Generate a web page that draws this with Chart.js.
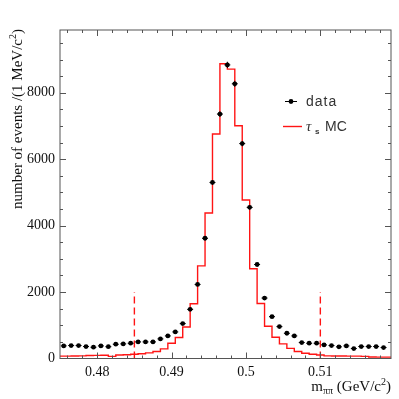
<!DOCTYPE html>
<html>
<head>
<meta charset="utf-8">
<script src="https://cdn.jsdelivr.net/npm/chart.js@4.4.1/dist/chart.umd.min.js"></script>
<style>
  html, body { margin: 0; padding: 0; background: #fff; }
</style>
</head>
<body>
<canvas id="chart" width="399" height="399"></canvas>
<script>
// bin centres of the data histogram (1 MeV bins)
const binCenters = [0.4755, 0.4765, 0.4775, 0.4785, 0.4795, 0.4805, 0.4815, 0.4825, 0.4835, 0.4845,
  0.4855, 0.4865, 0.4875, 0.4885, 0.4895, 0.4905, 0.4915, 0.4925, 0.4935, 0.4945,
  0.4955, 0.4965, 0.4975, 0.4985, 0.4995, 0.5005, 0.5015, 0.5025, 0.5035, 0.5045,
  0.5055, 0.5065, 0.5075, 0.5085, 0.5095, 0.5105, 0.5115, 0.5125, 0.5135, 0.5145,
  0.5155, 0.5165, 0.5175, 0.5185]
const dataCounts = [380, 390, 390, 360, 340, 380, 355, 430, 440, 460,
  500, 500, 500, 590, 680, 800, 1050, 1480, 2230, 3620,
  5300, 7360, 8840, 8270, 6470, 4550, 2830, 1820, 1260, 960,
  760, 680, 480, 460, 460, 410, 390, 350, 380, 300,
  360, 360, 360, 330]

// MC histogram: edges and contents (one content per step)
const mcEdges = [0.4745, 0.4755, 0.4765, 0.4775, 0.4785, 0.4795, 0.4805, 0.4815, 0.4825, 0.4835,
  0.4845, 0.4855, 0.4865, 0.4875, 0.4885, 0.4895, 0.4905, 0.4915, 0.4925, 0.4935,
  0.4945, 0.4955, 0.4965, 0.4975, 0.4985, 0.4995, 0.5005, 0.5015, 0.5025, 0.5035,
  0.5045, 0.5055, 0.5065, 0.5075, 0.5085, 0.5095, 0.5105, 0.5115, 0.5125, 0.5135,
  0.5145, 0.5155, 0.5165, 0.5175, 0.5185, 0.5195]
const mcCounts = [70, 70, 75, 80, 90, 95, 100, 65, 105, 115,
  130, 145, 170, 210, 290, 457, 630, 950, 1650, 2790,
  4381, 6757, 8872, 8712, 7008, 4770, 2700, 1654, 972, 640,
  440, 306, 210, 160, 130, 105, 80, 75, 75, 70,
  70, 65, 45, 40, 40]

const cutValues = [0.485, 0.510]
const cutHeight = 2000
const xTickLabels = [0.48, 0.49, 0.5, 0.51]
const yTickLabels = [0, 2000, 4000, 6000, 8000]

const RED = 'rgb(255, 20, 20)'

const dataPoints = binCenters.map((x, i) => ({ x: x, y: dataCounts[i] }))
const mcPoints = mcEdges.map((x, i) => ({ x: x, y: mcCounts[Math.min(i, mcCounts.length - 1)] }))
const cutSets = cutValues.map(v => ({
  type: 'line',
  data: [{ x: v, y: 0 }, { x: v, y: cutHeight }],
  borderColor: RED,
  borderWidth: 1.4,
  borderDash: [7, 4],
  pointRadius: 0,
  fill: false
}))

// error bars drawn just before the data markers
const errorBars = {
  id: 'errorBars',
  beforeDatasetDraw(chart, args) {
    if (args.index !== 0) return
    const { ctx, scales: { x, y } } = chart
    ctx.save()
    ctx.strokeStyle = '#000'
    ctx.lineWidth = 1
    dataPoints.forEach(p => {
      const px = x.getPixelForValue(p.x)
      const py = y.getPixelForValue(p.y)
      const e = Math.sqrt(p.y)
      ctx.beginPath()
      ctx.moveTo(x.getPixelForValue(p.x - 0.0004), py)
      ctx.lineTo(x.getPixelForValue(p.x + 0.0004), py)
      ctx.moveTo(px, y.getPixelForValue(p.y - e))
      ctx.lineTo(px, y.getPixelForValue(p.y + e))
      ctx.stroke()
    })
    ctx.restore()
  }
}

// frame, inward ticks, axis titles and legend
const frame = {
  id: 'frame',
  afterDraw(chart) {
    const { ctx, chartArea: a, scales: { x, y } } = chart
    ctx.save()
    ctx.strokeStyle = '#555'
    ctx.lineWidth = 1
    ctx.strokeRect(a.left, a.top, a.right - a.left, a.bottom - a.top)
    ctx.beginPath()
    for (let i = 0; i <= 25; i++) {
      const v = 0.476 + i * 0.002
      if (v > x.max) break
      const px = Math.round(x.getPixelForValue(v)) + 0.5
      const major = Math.abs(v * 100 - Math.round(v * 100)) < 1e-6
      const len = major ? 6 : 3
      ctx.moveTo(px, a.bottom); ctx.lineTo(px, a.bottom - len)
      ctx.moveTo(px, a.top); ctx.lineTo(px, a.top + len)
    }
    for (let v = 500; v < y.max; v += 500) {
      const py = Math.round(y.getPixelForValue(v)) + 0.5
      const len = v % 2000 === 0 ? 6 : 3
      ctx.moveTo(a.left, py); ctx.lineTo(a.left + len, py)
      ctx.moveTo(a.right, py); ctx.lineTo(a.right - len, py)
    }
    ctx.stroke()

    // y title
    ctx.fillStyle = '#111'
    const serif = '"Liberation Serif", "DejaVu Serif", serif'
    const yParts = [
      { t: 'number of events /(1 MeV/c', f: '15px ' + serif, dy: 0 },
      { t: '2', f: '10px ' + serif, dy: -6 },
      { t: ')', f: '15px ' + serif, dy: 0 }
    ]
    let total = 0
    yParts.forEach(p => { ctx.font = p.f; p.w = ctx.measureText(p.t).width; total += p.w })
    ctx.translate(22, 29)
    ctx.rotate(-Math.PI / 2)
    ctx.textBaseline = 'alphabetic'
    ctx.textAlign = 'left'
    let cx = -total
    yParts.forEach(p => { ctx.font = p.f; ctx.fillText(p.t, cx, p.dy); cx += p.w })
    ctx.setTransform(1, 0, 0, 1, 0, 0)

    // x title
    const xParts = [
      { t: 'm', f: '15px ' + serif, dy: 0 },
      { t: 'ππ', f: '10px ' + serif, dy: 3 },
      { t: ' (GeV/c', f: '15px ' + serif, dy: 0 },
      { t: '2', f: '10px ' + serif, dy: -6 },
      { t: ')', f: '15px ' + serif, dy: 0 }
    ]
    total = 0
    xParts.forEach(p => { ctx.font = p.f; p.w = ctx.measureText(p.t).width; total += p.w })
    cx = a.right - total
    xParts.forEach(p => { ctx.font = p.f; ctx.fillText(p.t, cx, 391 + p.dy); cx += p.w })

    // legend
    const sans = '"Liberation Sans", Arial, sans-serif'
    ctx.strokeStyle = '#000'
    ctx.beginPath()
    ctx.moveTo(285, 101.5); ctx.lineTo(297, 101.5)
    ctx.stroke()
    ctx.beginPath()
    ctx.arc(291, 101.5, 2.4, 0, Math.PI * 2)
    ctx.fillStyle = '#000'
    ctx.fill()
    ctx.strokeStyle = RED
    ctx.lineWidth = 1.4
    ctx.beginPath()
    ctx.moveTo(283, 126.5); ctx.lineTo(302, 126.5)
    ctx.stroke()
    ctx.fillStyle = '#333'
    ctx.font = '14px ' + sans
    ctx.letterSpacing = '1px'
    ctx.fillText('data', 306, 106)
    ctx.letterSpacing = '0px'
    ctx.font = 'italic 15px ' + serif
    ctx.fillText('τ', 306, 131)
    ctx.font = 'bold 8px ' + sans
    ctx.fillText('s', 315, 134)
    ctx.font = '14px ' + sans
    ctx.fillText('MC', 325, 131)
    ctx.restore()
  }
}

new Chart(document.getElementById('chart'), {
  data: {
    datasets: [
      {
        type: 'scatter',
        data: dataPoints,
        pointRadius: 2.4,
        pointBackgroundColor: '#000',
        pointBorderWidth: 0
      },
      {
        type: 'line',
        data: mcPoints,
        stepped: 'before',
        borderColor: RED,
        borderWidth: 1.4,
        pointRadius: 0,
        fill: false,
        clip: 0
      },
      ...cutSets
    ]
  },
  options: {
    responsive: false,
    animation: false,
    events: [],
    layout: { padding: { top: 30, right: 8, left: 0, bottom: 0 } },
    plugins: { legend: { display: false }, tooltip: { enabled: false } },
    scales: {
      x: {
        type: 'linear',
        min: 0.475,
        max: 0.5195,
        afterBuildTicks: s => { s.ticks = xTickLabels.map(v => ({ value: v })) },
        afterFit: s => { s.height = 40.5 },
        grid: { display: false, drawTicks: false },
        border: { display: false },
        ticks: {
          padding: 5,
          color: '#111',
          maxRotation: 0,
          font: { family: '"Liberation Serif", serif', size: 14 },
          callback: v => String(v)
        }
      },
      y: {
        min: 0,
        max: 9890,
        afterBuildTicks: s => { s.ticks = yTickLabels.map(v => ({ value: v })) },
        afterFit: s => { s.width = 60 },
        grid: { display: false, drawTicks: false },
        border: { display: false },
        ticks: {
          padding: 5,
          color: '#111',
          font: { family: '"Liberation Serif", serif', size: 14 },
          callback: v => String(v)
        }
      }
    }
  },
  plugins: [errorBars, frame]
})
</script>
</body>
</html>
